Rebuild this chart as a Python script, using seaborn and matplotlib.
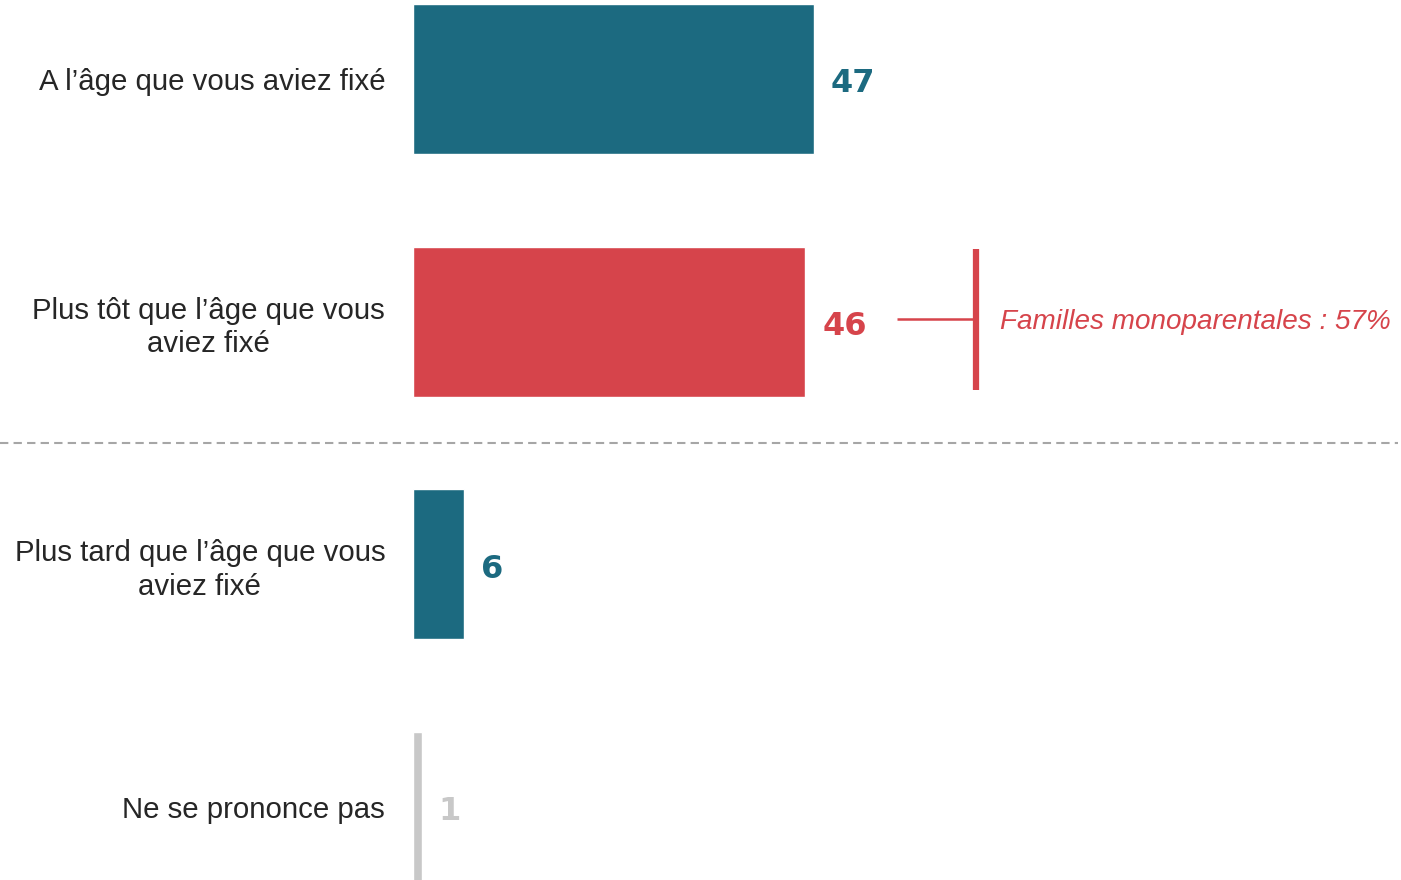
import matplotlib
matplotlib.use("Agg")
import matplotlib.pyplot as plt
import seaborn as sns
import pandas as pd
from matplotlib.lines import Line2D

categories = [
    "A l\u2019âge que vous aviez fixé",
    "Plus tôt que l\u2019âge que vous\naviez fixé",
    "Plus tard que l\u2019âge que vous\naviez fixé",
    "Ne se prononce pas",
]
values = [47, 46, 6, 1]
bar_colors = ["#1C6A80", "#D6444B", "#1C6A80", "#C8C8C8"]
annotation_text = "Familles monoparentales : 57%"

sns.set_theme(style="white")
plt.rcParams["font.family"] = ["Liberation Sans", "DejaVu Sans"]

df = pd.DataFrame({"category": categories, "value": values})

W, H = 1401, 880
fig = plt.figure(figsize=(W / 100, H / 100), dpi=100)
x0 = 413
ax = fig.add_axes([x0 / W, 0, 1 - x0 / W, 1])

sns.barplot(data=df, x="value", y="category", hue="category",
            palette=bar_colors, width=0.618, saturation=1,
            legend=False, ax=ax, orient="h")

px_per_unit = 8.53
ax.set_xlim(0, (W - x0) / px_per_unit)
ax.set_ylim(3.30, -0.3255)

for s in ax.spines.values():
    s.set_visible(False)
ax.set_xticks([])
ax.set_xlabel("")
ax.set_ylabel("")
ax.tick_params(axis="y", length=0, pad=20)
for lbl in ax.get_yticklabels():
    lbl.set_fontsize(21.2)
    lbl.set_color("#262626")
    lbl.set_multialignment("center")
    lbl.set_linespacing(1.25)

# value labels
for i, (v, c) in enumerate(zip(values, bar_colors)):
    ax.text(v + 17 / px_per_unit, i + 0.005, str(v), ha="left", va="center_baseline",
            fontsize=23, fontweight="bold", color=c, family="DejaVu Sans")

# dashed separator across full width
fig.add_artist(Line2D([0, 0.998], [1 - 443 / H, 1 - 443 / H],
                      transform=fig.transFigure, color="#A6A6A6",
                      lw=1.5, linestyle=(0, (4, 2.5))))

# annotation for second bar
red = bar_colors[1]
xa = (897 - x0) / px_per_unit
xb = (976 - x0) / px_per_unit
ax.plot([xa, xb], [0.99, 0.99], color=red, lw=1.8, solid_capstyle="butt")
ax.plot([xb, xb], [0.70, 1.28], color=red, lw=4.5, solid_capstyle="butt")
ax.text((1000 - x0) / px_per_unit, 1.0, annotation_text, ha="left",
        va="center", fontsize=20.1, fontstyle="italic", color=red)

fig.savefig("out.png", dpi=100)
